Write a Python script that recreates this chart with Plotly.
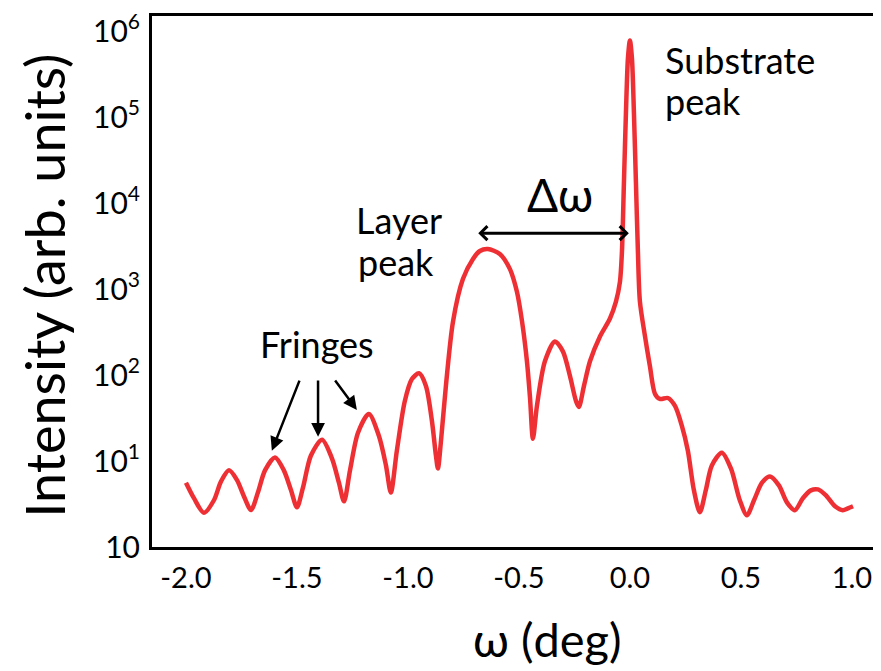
import plotly.graph_objects as go

omega = [-2.000, -1.964, -1.919, -1.874, -1.842, -1.806, -1.770, -1.739, -1.707, -1.676,
         -1.644, -1.599, -1.559, -1.527, -1.500, -1.473, -1.437, -1.387, -1.342, -1.311,
         -1.288, -1.261, -1.225, -1.176, -1.131, -1.099, -1.077, -1.050, -1.014, -0.982,
         -0.950, -0.919, -0.892, -0.874, -0.865, -0.851, -0.829, -0.797, -0.752, -0.707,
         -0.676, -0.640, -0.586, -0.541, -0.509, -0.486, -0.464, -0.450, -0.437, -0.419,
         -0.383, -0.338, -0.302, -0.270, -0.243, -0.230, -0.207, -0.180, -0.135, -0.090,
         -0.063, -0.045, -0.036, -0.027, -0.018, -0.009, 0.000, 0.009, 0.018, 0.027,
         0.036, 0.045, 0.068, 0.090, 0.113, 0.135, 0.171, 0.203, 0.234, 0.261,
         0.288, 0.315, 0.342, 0.369, 0.414, 0.455, 0.495, 0.527, 0.559, 0.595,
         0.631, 0.671, 0.707, 0.743, 0.779, 0.815, 0.847, 0.883, 0.924, 0.959,
         0.982, 1.005]

intensity = [5.6, 3.7, 2.5, 3.5, 5.8, 7.8, 6.0, 3.9, 2.7, 4.3,
             7.8, 11.0, 7.8, 4.6, 2.9, 4.9, 11.6, 17.7, 10.7, 5.6,
             3.4, 7.8, 21.4, 35.4, 19.7, 8.9, 4.3, 13.2, 50.0, 90.0,
             105.0, 75.0, 29.4, 11.6, 8.2, 17.3, 75.0, 421.0, 1322.0, 2254.0,
             2787.0, 2939.0, 2570.0, 1726.0, 935.0, 421.0, 145.0, 54.2, 18.2, 43.8,
             145.0, 247.0, 189.0, 97.3, 50.0, 42.7, 75.0, 145.0, 282.0, 456.0,
             717.0, 1222.0, 2715.0, 17500.0, 112700.0, 487500.0, 787000.0, 487500.0, 112700.0, 17500.0,
             2715.0, 717.0, 282.0, 127.0, 60.3, 52.8, 54.2, 43.8, 25.7, 13.2,
             4.6, 2.54, 4.6, 8.9, 12.5, 8.2, 3.5, 2.34, 3.5, 5.6,
             6.62, 5.21, 3.31, 2.68, 3.69, 4.56, 4.68, 3.99, 2.98, 2.68,
             2.82, 2.98]

x_ticks = [-2.0, -1.5, -1.0, -0.5, 0.0, 0.5, 1.0]
x_tick_labels = ["-2.0", "-1.5", "-1.0", "-0.5", "0.0", "0.5", "1.0"]
y_ticks = [1, 10, 100, 1000, 10000, 100000, 1000000]
y_tick_labels = ["10", "10<sup>1</sup>", "10<sup>2</sup>", "10<sup>3</sup>",
                 "10<sup>4</sup>", "10<sup>5</sup>", "10<sup>6</sup>"]

FONT = "Lato, Carlito, Calibri, sans-serif"

fig = go.Figure()
fig.add_trace(go.Scatter(x=omega, y=intensity, mode="lines",
                         line=dict(color="#EE3035", width=4.5, shape="spline", smoothing=0.8),
                         showlegend=False, hoverinfo="skip"))

fig.update_layout(
    width=873, height=663,
    margin=dict(l=144, r=0, t=4, b=124),
    paper_bgcolor="white", plot_bgcolor="white",
    font=dict(family=FONT, color="black"),
    xaxis=dict(range=[-2.153, 1.131], tickvals=x_ticks, ticktext=x_tick_labels,
               showgrid=False, zeroline=False, showline=True, linecolor="black", linewidth=3,
               mirror=True, ticks="", tickfont=dict(size=29, family=FONT), ticklabelstandoff=3,
               ticklabeloverflow="allow"),
    yaxis=dict(type="log", range=[0, 6.18], tickvals=y_ticks, ticktext=y_tick_labels,
               showgrid=False, zeroline=False, showline=True, linecolor="black", linewidth=3,
               ticks="", tickfont=dict(size=30, family=FONT), ticklabelstandoff=3,
               ticklabeloverflow="allow"),
)

ann = []
ann.append(dict(text="Intensity (arb. units)", xref="paper", yref="paper", x=-0.147, y=0.4916,
                xanchor="center", yanchor="middle",
                textangle=-90, showarrow=False, font=dict(size=54, family=FONT)))
ann.append(dict(text="ω (deg)", xref="paper", yref="paper", x=0.542, y=-0.174,
                xanchor="center", yanchor="middle", borderpad=0,
                showarrow=False, font=dict(size=47, family=FONT)))
for txt, xx, yy in [("Substrate", 0.150, 5.665), ("peak", 0.150, 5.191),
                    ("Layer", -1.242, 3.803), ("peak", -1.233, 3.318)]:
    ann.append(dict(text=txt, x=xx, y=yy, xanchor="left", yanchor="middle",
                    showarrow=False, font=dict(size=36, family=FONT)))
ann.append(dict(text="Δω", x=-0.315, y=4.10, xanchor="center", yanchor="middle",
                showarrow=False, font=dict(size=46, family=FONT)))
ann.append(dict(text="Fringes", x=-1.410, y=2.358, xanchor="center", yanchor="middle",
                showarrow=False, font=dict(size=36, family=FONT)))
# double arrow
ann.append(dict(text="", x=-0.005, y=3.653, ax=-0.69, ay=3.653, axref="x", ayref="y",
                showarrow=True, arrowhead=4, startarrowhead=4, arrowside="end+start",
                arrowsize=0.9, startarrowsize=0.9, arrowwidth=3, arrowcolor="black"))
# fringe arrows
for (hx, hy, tx, ty) in [(-1.613, 1.121, -1.486, 1.954), (-1.405, 1.283, -1.405, 1.954),
                         (-1.230, 1.595, -1.333, 1.954)]:
    ann.append(dict(text="", x=hx, y=hy, ax=tx, ay=ty, axref="x", ayref="y",
                    showarrow=True, arrowhead=2, arrowsize=1.1, arrowwidth=2.5, arrowcolor="black"))
fig.update_layout(annotations=ann)

fig.write_html("out.html")
